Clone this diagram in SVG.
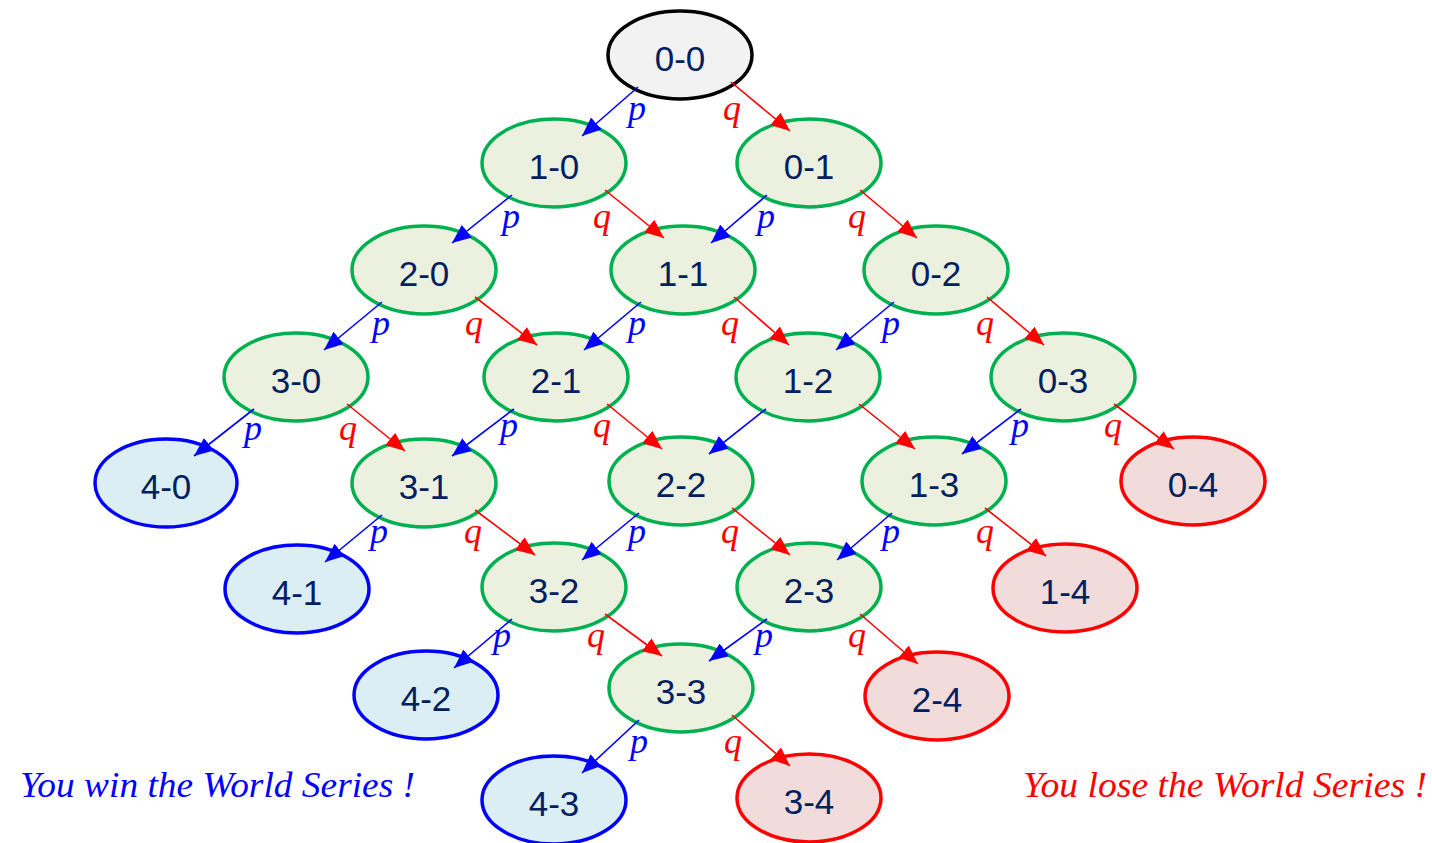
<svg xmlns="http://www.w3.org/2000/svg" width="1432" height="843" viewBox="0 0 1432 843">
<style>
.n ellipse{stroke-width:3.5}
.g ellipse{fill:#EBF1DE;stroke:#00B050}
.b ellipse{fill:#DBEEF4;stroke:#0000FF}
.r ellipse{fill:#F2DCDB;stroke:#FF0000}
.k ellipse{fill:#F2F2F2;stroke:#000000}
.n text{font-family:"Liberation Sans",Arial,sans-serif;font-size:35px;fill:#002060;text-anchor:middle}
.pe{stroke:#0000FF;stroke-width:1.6;fill:none;marker-end:url(#ab)}
.qe{stroke:#FF0000;stroke-width:1.6;fill:none;marker-end:url(#ar)}
.pl{font-family:"Liberation Serif","Times New Roman",serif;font-style:italic;font-size:36px;fill:#0000FF}
.ql{font-family:"Liberation Serif","Times New Roman",serif;font-style:italic;font-size:36px;fill:#FF0000}
.cap{font-family:"Liberation Serif","Times New Roman",serif;font-style:italic;font-size:36px}
</style>
<defs>
<marker id="ab" markerUnits="userSpaceOnUse" markerWidth="20" markerHeight="16" refX="19" refY="8" orient="auto"><path d="M0,0 L19,8 L0,16 z" fill="#0000FF"/></marker>
<marker id="ar" markerUnits="userSpaceOnUse" markerWidth="20" markerHeight="16" refX="19" refY="8" orient="auto"><path d="M0,0 L19,8 L0,16 z" fill="#FF0000"/></marker>
</defs>
<rect width="1432" height="843" fill="#FFFFFF"/>
<g id="n00" class="n k"><ellipse cx="680" cy="55" rx="72" ry="44"/><text x="680" y="71">0-0</text></g>
<g id="n10" class="n g"><ellipse cx="554" cy="163" rx="72" ry="44"/><text x="554" y="179">1-0</text></g>
<g id="n01" class="n g"><ellipse cx="809" cy="163" rx="72" ry="44"/><text x="809" y="179">0-1</text></g>
<g id="n20" class="n g"><ellipse cx="424" cy="270" rx="72" ry="44"/><text x="424" y="286">2-0</text></g>
<g id="n11" class="n g"><ellipse cx="683" cy="270" rx="72" ry="44"/><text x="683" y="286">1-1</text></g>
<g id="n02" class="n g"><ellipse cx="936" cy="270" rx="72" ry="44"/><text x="936" y="286">0-2</text></g>
<g id="n30" class="n g"><ellipse cx="296" cy="377" rx="72" ry="44"/><text x="296" y="393">3-0</text></g>
<g id="n21" class="n g"><ellipse cx="556" cy="377" rx="72" ry="44"/><text x="556" y="393">2-1</text></g>
<g id="n12" class="n g"><ellipse cx="808" cy="377" rx="72" ry="44"/><text x="808" y="393">1-2</text></g>
<g id="n03" class="n g"><ellipse cx="1063" cy="377" rx="72" ry="44"/><text x="1063" y="393">0-3</text></g>
<g id="n40" class="n b"><ellipse cx="166" cy="483" rx="71" ry="44"/><text x="166" y="499">4-0</text></g>
<g id="n31" class="n g"><ellipse cx="424" cy="483" rx="72" ry="44"/><text x="424" y="499">3-1</text></g>
<g id="n22" class="n g"><ellipse cx="681" cy="481" rx="72" ry="44"/><text x="681" y="497">2-2</text></g>
<g id="n13" class="n g"><ellipse cx="934" cy="481" rx="72" ry="44"/><text x="934" y="497">1-3</text></g>
<g id="n04" class="n r"><ellipse cx="1193" cy="481" rx="72" ry="44"/><text x="1193" y="497">0-4</text></g>
<g id="n41" class="n b"><ellipse cx="297" cy="589" rx="72" ry="44"/><text x="297" y="605">4-1</text></g>
<g id="n32" class="n g"><ellipse cx="554" cy="587" rx="72" ry="44"/><text x="554" y="603">3-2</text></g>
<g id="n23" class="n g"><ellipse cx="809" cy="587" rx="72" ry="44"/><text x="809" y="603">2-3</text></g>
<g id="n14" class="n r"><ellipse cx="1065" cy="588" rx="72" ry="44"/><text x="1065" y="604">1-4</text></g>
<g id="n42" class="n b"><ellipse cx="426" cy="695" rx="72" ry="44"/><text x="426" y="711">4-2</text></g>
<g id="n33" class="n g"><ellipse cx="681" cy="688" rx="72" ry="44"/><text x="681" y="704">3-3</text></g>
<g id="n24" class="n r"><ellipse cx="937" cy="696" rx="72" ry="44"/><text x="937" y="712">2-4</text></g>
<g id="n43" class="n b"><ellipse cx="554" cy="800" rx="72" ry="44"/><text x="554" y="816">4-3</text></g>
<g id="n34" class="n r"><ellipse cx="809" cy="798" rx="72" ry="44"/><text x="809" y="814">3-4</text></g>
<g id="connectors">
<line class="pe" x1="638" y1="87" x2="582" y2="136"/>
<line class="qe" x1="731" y1="82" x2="790" y2="131"/>
<line class="pe" x1="512" y1="195" x2="452" y2="243"/>
<line class="qe" x1="605" y1="190" x2="664" y2="238"/>
<line class="pe" x1="767" y1="195" x2="711" y2="243"/>
<line class="qe" x1="860" y1="190" x2="917" y2="238"/>
<line class="pe" x1="382" y1="302" x2="324" y2="350"/>
<line class="qe" x1="475" y1="297" x2="537" y2="345"/>
<line class="pe" x1="641" y1="302" x2="584" y2="350"/>
<line class="qe" x1="734" y1="297" x2="789" y2="345"/>
<line class="pe" x1="894" y1="302" x2="836" y2="350"/>
<line class="qe" x1="987" y1="297" x2="1044" y2="345"/>
<line class="pe" x1="254" y1="409" x2="194" y2="456"/>
<line class="qe" x1="347" y1="404" x2="405" y2="451"/>
<line class="pe" x1="514" y1="409" x2="452" y2="456"/>
<line class="qe" x1="607" y1="404" x2="662" y2="449"/>
<line class="pe" x1="766" y1="409" x2="709" y2="454"/>
<line class="qe" x1="859" y1="404" x2="915" y2="449"/>
<line class="pe" x1="1021" y1="409" x2="962" y2="454"/>
<line class="qe" x1="1114" y1="404" x2="1174" y2="449"/>
<line class="pe" x1="382" y1="515" x2="325" y2="562"/>
<line class="qe" x1="475" y1="510" x2="535" y2="555"/>
<line class="pe" x1="639" y1="513" x2="582" y2="560"/>
<line class="qe" x1="732" y1="508" x2="790" y2="555"/>
<line class="pe" x1="892" y1="513" x2="837" y2="560"/>
<line class="qe" x1="985" y1="508" x2="1046" y2="556"/>
<line class="pe" x1="512" y1="619" x2="454" y2="668"/>
<line class="qe" x1="605" y1="614" x2="662" y2="656"/>
<line class="pe" x1="767" y1="619" x2="709" y2="661"/>
<line class="qe" x1="860" y1="614" x2="918" y2="664"/>
<line class="pe" x1="639" y1="720" x2="582" y2="773"/>
<line class="qe" x1="732" y1="715" x2="790" y2="766"/>
</g>
<g id="edge-labels">
<text class="pl" x="628" y="120">p</text><text class="ql" x="723" y="120">q</text>
<text class="pl" x="502" y="228">p</text><text class="ql" x="593" y="228">q</text>
<text class="pl" x="757" y="228">p</text><text class="ql" x="848" y="228">q</text>
<text class="pl" x="372" y="335">p</text><text class="ql" x="465" y="335">q</text>
<text class="pl" x="628" y="335">p</text><text class="ql" x="721" y="335">q</text>
<text class="pl" x="882" y="335">p</text><text class="ql" x="976" y="335">q</text>
<text class="pl" x="244" y="440">p</text><text class="ql" x="339" y="440">q</text>
<text class="pl" x="500" y="437">p</text><text class="ql" x="593" y="437">q</text>
<text class="pl" x="1011" y="437">p</text><text class="ql" x="1104" y="437">q</text>
<text class="pl" x="370" y="543">p</text><text class="ql" x="464" y="543">q</text>
<text class="pl" x="628" y="543">p</text><text class="ql" x="721" y="543">q</text>
<text class="pl" x="882" y="543">p</text><text class="ql" x="976" y="543">q</text>
<text class="pl" x="493" y="647">p</text><text class="ql" x="587" y="647">q</text>
<text class="pl" x="755" y="647">p</text><text class="ql" x="848" y="647">q</text>
<text class="pl" x="630" y="753">p</text><text class="ql" x="724" y="753">q</text>
</g>
<text class="cap" x="20" y="797" fill="#0000FF" textLength="395" lengthAdjust="spacingAndGlyphs">You win the World Series !</text>
<text class="cap" x="1023" y="797" fill="#FF0000" textLength="404" lengthAdjust="spacingAndGlyphs">You lose the World Series !</text>
</svg>
